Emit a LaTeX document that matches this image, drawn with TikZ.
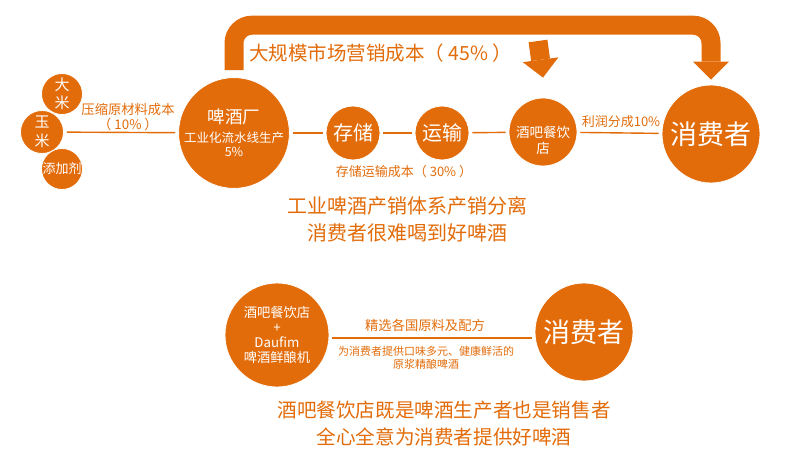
\documentclass[tikz,border=0pt]{standalone}
\usepackage{fontspec}
\setmainfont{Noto Sans CJK SC}
\usetikzlibrary{arrows.meta}
\definecolor{brew}{RGB}{227,108,10}
\newcommand{\pxfont}[2]{\fontsize{#1}{#2}\selectfont}

\begin{document}
\begin{tikzpicture}[x=1pt,y=-1pt]
    \tikzset{ball/.style={circle, fill=brew, draw=white, line width=0.8pt, inner sep=0pt, text=white, align=center}};
    \tikzset{line/.style={draw=brew, line width=1.4pt, shorten <=3pt, shorten >=3pt}};
    \tikzset{note/.style={text=brew, align=center, inner sep=0pt}};
    \tikzset{band/.style={draw=brew, line width=19pt, -{Triangle[width=36pt,length=18pt,line width=0pt]}}};

    \fill[white] (0,0) rectangle (800,449);
    \useasboundingbox (0,0) rectangle (800,449);

    \node[ball, minimum size=41pt, font=\pxfont{15}{18.5}] (rice) at (62,94) {大\\米};
    \node[ball, minimum size=41pt, font=\pxfont{13}{15}] (additive) at (62,169) {添加剂};
    \node[ball, minimum size=43pt, font=\pxfont{15}{18.5}] (corn) at (42,132) {玉\\米};

    \node[ball, minimum size=102pt, font=\pxfont{12.5}{14}] (brewery) at (234,133) {{\pxfont{17.5}{20}啤酒厂}\\[5pt]工业化流水线生产\\5\%};
    \node[ball, minimum size=54pt, font=\pxfont{20}{24}] (storage) at (353,133) {存储};
    \node[ball, minimum size=54pt, font=\pxfont{20}{24}] (transport) at (442,133) {运输};
    \node[ball, minimum size=68pt, label={[note, text=white, font=\pxfont{13.5}{16}, yshift=-8pt]center:酒吧餐饮\\店}] (bar) at (543,132) {};
    \node[ball, minimum size=98pt, font=\pxfont{27}{32}] (consumer) at (711,134) {消费者};

    \draw[line] (corn) -- (brewery);
    \draw[line] (brewery) -- (storage);
    \draw[line] (storage) -- (transport);
    \draw[line] (transport) -- (bar);
    \draw[line] (bar) -- (consumer);

    \draw[band, rounded corners=18pt] ([yshift=7pt]brewery.north) -- ++(0,-45) -| ([yshift=5pt]consumer.north);
    \coordinate (drop) at (538,41);
    \draw[band] (drop) -- ([yshift=20pt]bar.north);

    \node[note, font=\pxfont{19.5}{24}, anchor=west] (adcost) at (249,53) {大规模市场营销成本（ 45\% ）};
    \node[note, font=\pxfont{13.3}{15}] (rawcost) at (128,117) {压缩原材料成本\\（ 10\% ）};
    \node[note, font=\pxfont{13}{15}] (stockcost) at (404,172) {存储运输成本（ 30\% ）};
    \node[note, font=\pxfont{13}{15}] (profit) at (621,122) {利润分成10\%};
    \node[note, font=\pxfont{20}{27}] (verdict) at (407,219) {工业啤酒产销体系产销分离\\消费者很难喝到好啤酒};

    \node[ball, minimum size=104pt, font=\pxfont{13.3}{15}] (brewpub) at (277,335) {酒吧餐饮店\\+\\Daufim\\啤酒鲜酿机};
    \node[ball, minimum size=98pt, font=\pxfont{27}{32}] (patron) at (584,332) {消费者};
    \draw[line] ([yshift=-3pt]brewpub.east) -- ([yshift=-6pt]patron.west);

    \node[note, font=\pxfont{13.3}{15}] (recipe) at (425,325) {精选各国原料及配方};
    \node[note, font=\pxfont{11}{12.5}] (promise) at (426,358) {为消费者提供口味多元、健康鲜活的\\原浆精酿啤酒};
    \node[note, font=\pxfont{19.6}{27}] (motto) at (444,424) {酒吧餐饮店既是啤酒生产者也是销售者\\全心全意为消费者提供好啤酒};
\end{tikzpicture}
\end{document}
